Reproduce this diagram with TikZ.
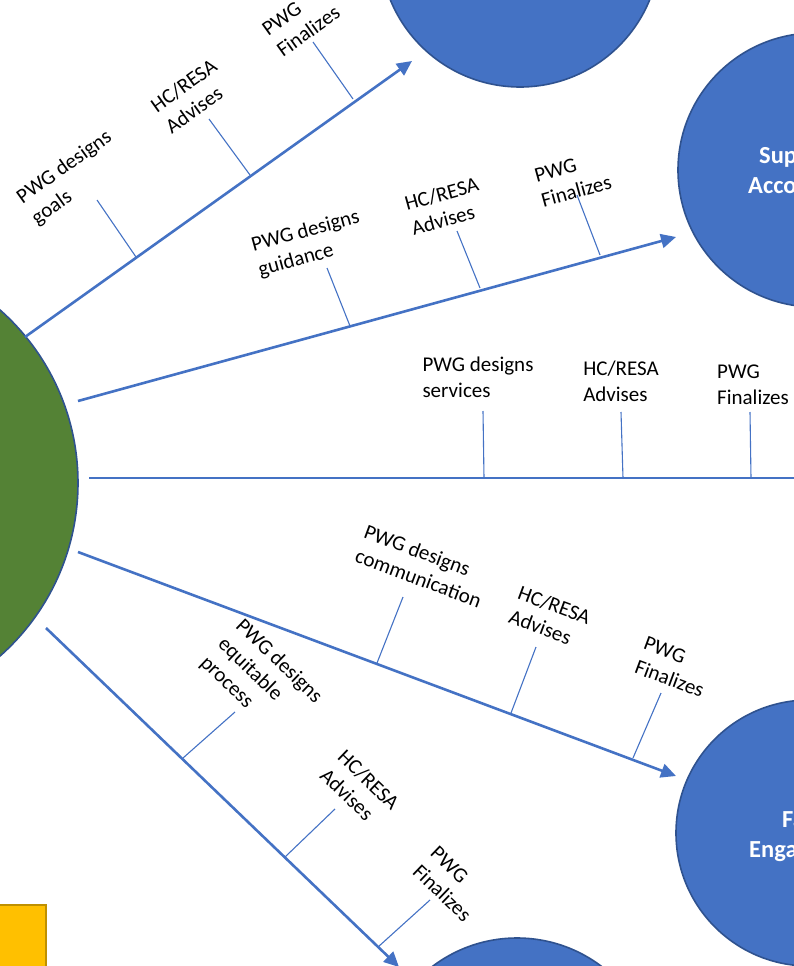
\documentclass[tikz,border=0pt]{standalone}
\usepackage{fontspec}
\setmainfont{Carlito}
\usetikzlibrary{arrows.meta}
\definecolor{accent}{HTML}{4472C4}
\definecolor{edge}{HTML}{2F528F}
\definecolor{leaf}{HTML}{548235}
\definecolor{gold}{HTML}{FFC000}
\definecolor{golde}{HTML}{BF9000}
\begin{document}
\begin{tikzpicture}[x=1pt,y=-1pt,
  spoke/.style={draw=accent,line width=2.6pt},
  spokearrow/.style={spoke,-{Triangle[length=15pt,width=14pt]}},
  tickline/.style={draw=accent,line width=1.1pt},
  lbl/.style={font=\fontsize{21}{25.6}\selectfont,align=left,inner sep=0pt,text=black},
  bluedisc/.style={circle,fill=accent,draw=edge,line width=1.6pt,minimum size=280pt,inner sep=0pt},
  disctext/.style={font=\fontsize{24.5}{28}\selectfont\bfseries,text=white,inner sep=0pt,anchor=base west}
]
\useasboundingbox (0,0) rectangle (794,966);
\clip (0,0) rectangle (794,966);
% discs
\node[circle,fill=leaf,draw=edge,line width=1.6pt,minimum size=462pt,inner sep=0pt] (hub) at (-153,483) {};
\node[bluedisc] (top) at (520,-53) {};
\node[bluedisc,minimum size=274pt] (acc) at (815,170) {};
\node[bluedisc,minimum size=266pt] (fam) at (809,833) {};
\node[bluedisc] (bot) at (517,1078) {};
\node[rectangle,fill=gold,draw=golde,line width=1.6pt,minimum width=60pt,minimum height=80pt] (box) at (16,945) {};
\node[disctext] (t1) at (759,163) {Sup};
\node[disctext] (t2) at (748,193) {Acco};
\node[disctext] (t3) at (782,827) {Fa};
\node[disctext] (t4) at (749,857) {Enga};

% spoke 1
\coordinate (s1a) at (25,337); \coordinate (s1b) at (412,61);
\draw[spokearrow] (s1a) -- (s1b);
\coordinate (k11a) at (97,200); \coordinate (k11b) at (136,257);
\coordinate (k12a) at (209,119); \coordinate (k12b) at (250,175);
\coordinate (k13a) at (313,42); \coordinate (k13b) at (353,99);
\draw[tickline] (k11a) -- (k11b); \draw[tickline] (k12a) -- (k12b); \draw[tickline] (k13a) -- (k13b);
\node[lbl,rotate=35.5] (l11) at (72,178) {PWG designs\\goals};
\node[lbl,rotate=35.5] (l12) at (191,96) {HC/RESA\\Advises};
\node[lbl,rotate=35.5] (l13) at (301,21) {PWG\\Finalizes};

% spoke 2
\coordinate (s2a) at (78,401); \coordinate (s2b) at (676,237);
\draw[spokearrow] (s2a) -- (s2b);
\coordinate (k21a) at (327,268); \coordinate (k21b) at (350,326);
\coordinate (k22a) at (457,231); \coordinate (k22b) at (480,288);
\coordinate (k23a) at (577,195); \coordinate (k23b) at (600,255);
\draw[tickline] (k21a) -- (k21b); \draw[tickline] (k22a) -- (k22b); \draw[tickline] (k23a) -- (k23b);
\node[lbl,rotate=15.4] (l21) at (309,244) {PWG designs\\guidance};
\node[lbl,rotate=15.4] (l22) at (445,206) {HC/RESA\\Advises};
\node[lbl,rotate=15.4] (l23) at (573,179) {PWG\\Finalizes};

% spoke 3
\coordinate (s3a) at (89,478); \coordinate (s3b) at (800,478);
\draw[spoke] (s3a) -- (s3b);
\coordinate (k31a) at (483,411); \coordinate (k31b) at (484,478);
\coordinate (k32a) at (621,412); \coordinate (k32b) at (623,478);
\coordinate (k33a) at (750,412); \coordinate (k33b) at (751,478);
\draw[tickline] (k31a) -- (k31b); \draw[tickline] (k32a) -- (k32b); \draw[tickline] (k33a) -- (k33b);
\node[lbl] (l31) at (478,377) {PWG designs\\services};
\node[lbl] (l32) at (621,381) {HC/RESA\\Advises};
\node[lbl] (l33) at (753,385) {PWG\\Finalizes};

% spoke 4
\coordinate (s4a) at (78,552); \coordinate (s4b) at (676,776);
\draw[spokearrow] (s4a) -- (s4b);
\coordinate (k41a) at (403,597); \coordinate (k41b) at (377,663);
\coordinate (k42a) at (536,647); \coordinate (k42b) at (511,713);
\coordinate (k43a) at (661,693); \coordinate (k43b) at (633,758);
\draw[tickline] (k41a) -- (k41b); \draw[tickline] (k42a) -- (k42b); \draw[tickline] (k43a) -- (k43b);
\node[lbl,rotate=-20.4] (l41) at (423,566) {PWG designs\\communication};
\node[lbl,rotate=-20.4] (l42) at (550,617) {HC/RESA\\Advises};
\node[lbl,rotate=-20.4] (l43) at (674,667) {PWG\\Finalizes};

% spoke 5
\coordinate (s5a) at (46,628); \coordinate (s5b) at (399,967);
\draw[spokearrow] (s5a) -- (s5b);
\coordinate (k51a) at (235,712); \coordinate (k51b) at (183,758);
\coordinate (k52a) at (335,809); \coordinate (k52b) at (285,857);
\coordinate (k53a) at (430,900); \coordinate (k53b) at (378,947);
\draw[tickline] (k51a) -- (k51b); \draw[tickline] (k52a) -- (k52b); \draw[tickline] (k53a) -- (k53b);
\node[lbl,rotate=-43.8] (l51) at (261,680) {PWG designs\\equitable\\process};
\node[lbl,rotate=-43.8] (l52) at (360,789) {HC/RESA\\Advises};
\node[lbl,rotate=-43.8] (l53) at (451,884) {PWG\\Finalizes};
\end{tikzpicture}
\end{document}
